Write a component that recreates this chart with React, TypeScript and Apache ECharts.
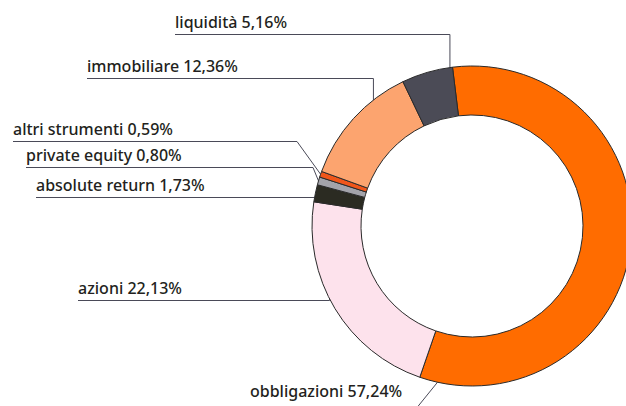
import React, { useEffect, useRef } from 'react';
import * as echarts from 'echarts';

const categories = ['obbligazioni', 'azioni', 'absolute return', 'private equity', 'altri strumenti', 'immobiliare', 'liquidità'];
const values = [57.24, 22.13, 1.73, 0.80, 0.59, 12.36, 5.16];
const colors = ['#ff6c00', '#fde2ec', '#2b2b22', '#a3a3aa', '#f0561a', '#fca46f', '#4b4b56'];

// label placement (style): label left x, label centre y, underline y, bend x (null = vertical drop), attach fraction within slice
const labelLeft = [250, 78, 36, 26, 13, 87, 175];
const labelY = [391, 288, 185, 155, 129, 66, 22];
const underlineY = [412, 300, 197, 167, 141, 78, 34];
const bendX: (number | null)[] = [413, null, null, 313, 297, null, null];
const attachFrac = [0.968, 0.55, 0.25, 0.5, 0.5, 0.72, 0.95];

const CX = 472;
const CY = 226;
const R_IN = 111;
const R_OUT = 160;
const START_ANGLE = 97;

export default function App() {
  const ref = useRef<HTMLDivElement>(null);
  useEffect(() => {
    document.body.style.margin = '0';
    const chart = echarts.init(ref.current!, null, { renderer: 'svg' });
    const total = values.reduce((a, b) => a + b, 0);
    const startCW = 90 - START_ANGLE;
    chart.setOption({
      animation: false,
      backgroundColor: '#ffffff',
      series: [
        {
          type: 'pie',
          center: [CX, CY],
          radius: [R_IN, R_OUT],
          startAngle: START_ANGLE,
          clockwise: true,
          avoidLabelOverlap: false,
          silent: true,
          itemStyle: { borderColor: '#2a2a2a', borderWidth: 1 },
          label: {
            show: true,
            position: 'outside',
            fontFamily: 'Noto Sans',
            fontSize: 16,
            fontWeight: 500,
            lineHeight: 18,
            color: '#231f20',
            formatter: (p: any) => `${p.name} ${p.value.toFixed(2).replace('.', ',')}%`,
          },
          labelLine: {
            show: true,
            lineStyle: { color: '#4a4a58', width: 1 },
          },
          labelLayout: (p: any) => {
            const i = p.dataIndex;
            let cum = 0;
            for (let k = 0; k < i; k++) cum += values[k];
            const deg = startCW + ((cum + attachFrac[i] * values[i]) / total) * 360;
            const a = (deg * Math.PI) / 180;
            const ax = CX + R_OUT * Math.sin(a);
            const ay = CY - R_OUT * Math.cos(a);
            const uy = underlineY[i] + 0.5;
            const bx = bendX[i] == null ? ax : (bendX[i] as number);
            return {
              x: labelLeft[i],
              y: labelY[i],
              align: 'left',
              verticalAlign: 'middle',
              labelLinePoints: [
                [ax, ay],
                [bx, uy],
                [labelLeft[i], uy],
              ],
            };
          },
          data: categories.map((c, i) => ({ name: c, value: values[i], itemStyle: { color: colors[i] } })),
        },
      ],
    });
    return () => chart.dispose();
  }, []);
  return <div ref={ref} style={{ width: 626, height: 406 }} />;
}
